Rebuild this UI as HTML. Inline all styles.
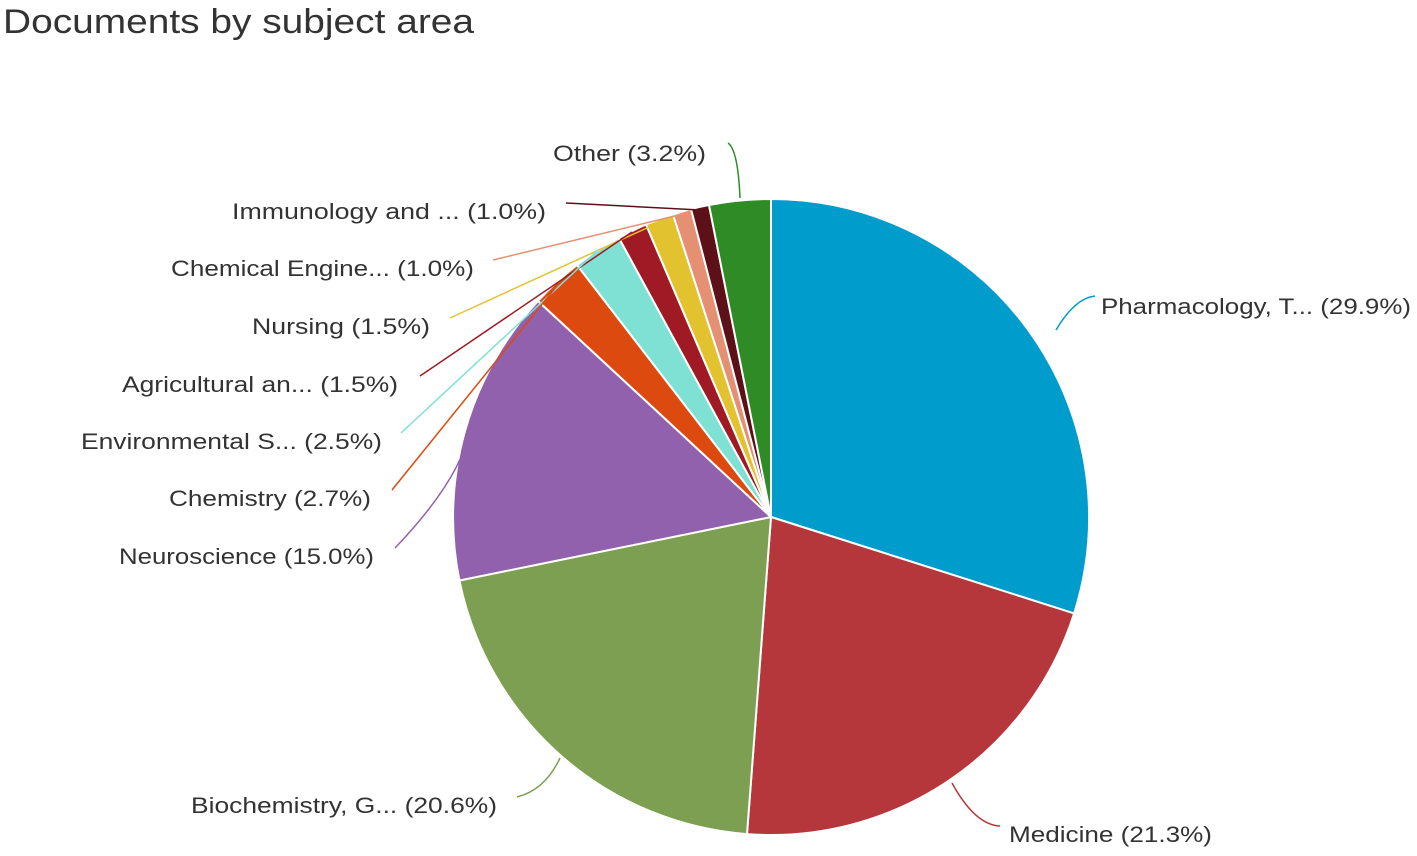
<!DOCTYPE html>
<html><head><meta charset="utf-8"><style>
html,body{margin:0;padding:0;background:#fff;}
svg{display:block;font-family:"Liberation Sans",sans-serif;}
text{font-size:22px;fill:#333;}
</style></head><body>
<svg width="1417" height="856" viewBox="0 0 1417 856">
<text x="3" y="33" style="font-size:34px" textLength="471" lengthAdjust="spacingAndGlyphs">Documents by subject area</text>
<g stroke="#fff" stroke-width="2" stroke-linejoin="round">
<path d="M771,517 L771,199 A318,318 0 0 1 1074.1,613.4 Z" fill="#009ccc"/>
<path d="M771,517 L1074.1,613.4 A318,318 0 0 1 747,834.1 Z" fill="#b5373b"/>
<path d="M771,517 L747,834.1 A318,318 0 0 1 459.4,580.5 Z" fill="#7d9f52"/>
<path d="M771,517 L459.4,580.5 A318,318 0 0 1 538,301 Z" fill="#9261ad"/>
<path d="M771,517 L538,301 A318,318 0 0 1 577,265 Z" fill="#dd4a0f"/>
<path d="M771,517 L577,265 A318,318 0 0 1 619,238 Z" fill="#7fe1d4"/>
<path d="M771,517 L619,238 A318,318 0 0 1 646,224.5 Z" fill="#a01a25"/>
<path d="M771,517 L646,224.5 A318,318 0 0 1 673,214.5 Z" fill="#e3c22f"/>
<path d="M771,517 L673,214.5 A318,318 0 0 1 691,209 Z" fill="#e58f73"/>
<path d="M771,517 L691,209 A318,318 0 0 1 709,205 Z" fill="#5c1017"/>
<path d="M771,517 L709,205 A318,318 0 0 1 771,199 Z" fill="#2e8b25"/>
</g>
<g fill="none" stroke-width="1.5">
<path d="M740,198 Q738,150 728,143" stroke="#2e8b25"/>
<path d="M566,203 L700,210" stroke="#5c1017"/>
<path d="M493,260 L683,214" stroke="#e58f73"/>
<path d="M450,318 L660,222" stroke="#e3c22f"/>
<path d="M420,376 L632,232" stroke="#a01a25"/>
<path d="M401,433 L598,250" stroke="#7fe1d4"/>
<path d="M392,490 L560,282" stroke="#dd4a0f"/>
<path d="M395,548 Q460,480 470,430" stroke="#9261ad"/>
<path d="M1056,330 Q1075,298 1095,296" stroke="#009ccc"/>
<path d="M517,797 Q545,790 560,758" stroke="#7d9f52"/>
<path d="M952,783 Q975,825 1000,826" stroke="#b5373b"/>
</g>
<text x="553" y="161" textLength="153" lengthAdjust="spacingAndGlyphs">Other (3.2%)</text>
<text x="232" y="219" textLength="314" lengthAdjust="spacingAndGlyphs">Immunology and ... (1.0%)</text>
<text x="171" y="276" textLength="303" lengthAdjust="spacingAndGlyphs">Chemical Engine... (1.0%)</text>
<text x="252" y="334" textLength="178" lengthAdjust="spacingAndGlyphs">Nursing (1.5%)</text>
<text x="122" y="392" textLength="276" lengthAdjust="spacingAndGlyphs">Agricultural an... (1.5%)</text>
<text x="81" y="449" textLength="301" lengthAdjust="spacingAndGlyphs">Environmental S... (2.5%)</text>
<text x="169" y="506" textLength="202" lengthAdjust="spacingAndGlyphs">Chemistry (2.7%)</text>
<text x="119" y="564" textLength="255" lengthAdjust="spacingAndGlyphs">Neuroscience (15.0%)</text>
<text x="1101" y="314" textLength="310" lengthAdjust="spacingAndGlyphs">Pharmacology, T... (29.9%)</text>
<text x="191" y="813" textLength="306" lengthAdjust="spacingAndGlyphs">Biochemistry, G... (20.6%)</text>
<text x="1009" y="842" textLength="203" lengthAdjust="spacingAndGlyphs">Medicine (21.3%)</text>
</svg>
</body></html>
